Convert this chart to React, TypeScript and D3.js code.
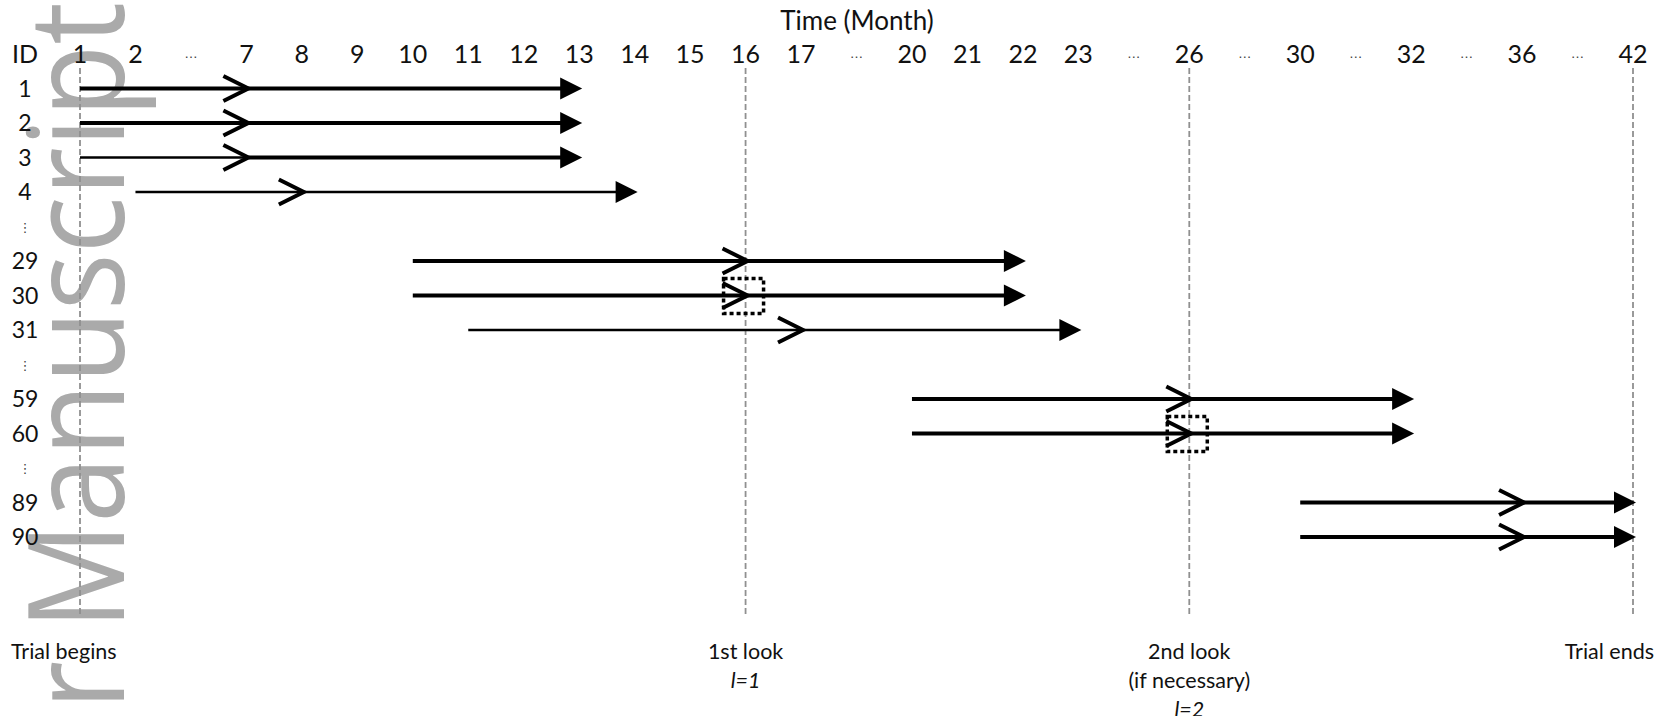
import React from "react";
import * as d3 from "d3";

// ---- Data ----
const columnLabels = ["1", "2", "…", "7", "8", "9", "10", "11", "12", "13", "14", "15", "16", "17", "…", "20", "21", "22", "23", "…", "26", "…", "30", "…", "32", "…", "36", "…", "42"];
const rowLabels = ["1", "2", "3", "4", "⋮", "29", "30", "31", "⋮", "59", "60", "⋮", "89", "90"];
const subjectIds = ["1", "2", "3", "4", "29", "30", "31", "59", "60", "89", "90"];
const entryMonths = [1, 1, 1, 2, 10, 10, 11, 20, 20, 30, 30];
const eventMonths = [7, 7, 7, 8, 16, 16, 17, 26, 26, 36, 36];
const exitMonths = [13, 13, 13, 14, 22, 22, 23, 32, 32, 42, 42];
const boxedIds = ["30", "60"];
const lookMonths = [1, 16, 26, 42];
const lookLabels = [["Trial begins"], ["1st look", "l=1"], ["2nd look", "(if necessary)", "l=2"], ["Trial ends"]];

const W = 1671;
const H = 716;
const FONT = "Lato, 'Open Sans', sans-serif";

export default function App() {
  const x = d3.scalePoint<number>().domain(d3.range(columnLabels.length)).range([80, 1633]);
  const y = d3.scalePoint<number>().domain(d3.range(rowLabels.length)).range([88.5, 537]);
  const mx = (m: number) => x(columnLabels.indexOf(String(m))) as number;
  const ry = (id: string) => y(rowLabels.indexOf(id)) as number;

  const thinRows = ["4", "31"];
  const thinFirst = ["3"];

  return (
    <svg width={W} height={H} style={{ position: "absolute", left: 0, top: 0, background: "#fff" }}>
      {/* watermark */}
      <text
        transform="translate(124,2) rotate(-90) scale(0.89,1)"
        textAnchor="end"
        fontFamily="'Open Sans', sans-serif"
        fontSize={134}
        fill="#aaaaaa"
      >
        Author Manuscript
      </text>

      {/* title */}
      <text x={857} y={30} textAnchor="middle" fontFamily={FONT} fontSize={26} fill="#111">
        Time (Month)
      </text>

      {/* header */}
      <text x={25} y={63} textAnchor="middle" fontFamily={FONT} fontSize={25} fill="#111">ID</text>
      {columnLabels.map((c, i) =>
        c === "…" ? (
          <text key={i} x={x(i)} y={58} textAnchor="middle" fontFamily="'DejaVu Sans', sans-serif" fontSize={13} fill="#444">…</text>
        ) : (
          <text key={i} x={x(i)} y={63} textAnchor="middle" fontFamily={FONT} fontSize={25} fill="#111">{c}</text>
        )
      )}

      {/* row labels */}
      {rowLabels.map((r, i) =>
        r === "⋮" ? (
          <text key={i} x={25} y={(y(i) as number) + 5} textAnchor="middle" fontFamily="'DejaVu Sans', sans-serif" fontSize={13} fill="#444">⋮</text>
        ) : (
          <text key={i} x={25} y={(y(i) as number) + 8} textAnchor="middle" fontFamily={FONT} fontSize={23} fill="#111">{r}</text>
        )
      )}

      {/* look lines */}
      {lookMonths.map((m, i) => (
        <line key={i} x1={mx(m)} x2={mx(m)} y1={68} y2={617} stroke="#909090" strokeWidth={1.8} strokeDasharray="6 3" />
      ))}

      {/* subjects */}
      {subjectIds.map((id, i) => {
        const yy = ry(id);
        const x0 = mx(entryMonths[i]);
        const xe = mx(eventMonths[i]) + 2;
        const xt = mx(exitMonths[i]) + 3;
        const w2 = thinRows.includes(id) ? 2.6 : 4;
        const w1 = thinRows.includes(id) || thinFirst.includes(id) ? 2.6 : 4;
        return (
          <g key={id}>
            <line x1={x0} x2={xe} y1={yy} y2={yy} stroke="#000" strokeWidth={w1} />
            <line x1={xe} x2={xt - 20} y1={yy} y2={yy} stroke="#000" strokeWidth={w2} />
            <path d={`M${xe - 25},${yy - 12.5}L${xe},${yy}L${xe - 25},${yy + 12.5}`} fill="none" stroke="#000" strokeWidth={4} />
            <path d={`M${xt},${yy}L${xt - 22},${yy - 11}L${xt - 22},${yy + 11}Z`} fill="#000" />
            {boxedIds.includes(id) && (
              <rect x={xe - 24} y={yy - 17} width={40} height={35} fill="none" stroke="#000" strokeWidth={3.5} strokeDasharray="4 3" />
            )}
          </g>
        );
      })}

      {/* look labels */}
      {lookMonths.map((m, i) => {
        const lines = lookLabels[i];
        let ax = mx(m);
        let anchor: "start" | "middle" | "end" = "middle";
        if (i === 0) { ax = 11; anchor = "start"; }
        if (i === lookMonths.length - 1) { ax = 1654; anchor = "end"; }
        return (
          <g key={i}>
            {lines.map((t, j) => (
              <text
                key={j}
                x={ax}
                y={659 + j * 29}
                textAnchor={anchor}
                fontFamily={FONT}
                fontSize={21.5}
                fontStyle={t.startsWith("l=") ? "italic" : "normal"}
                fill="#111"
              >
                {t}
              </text>
            ))}
          </g>
        );
      })}
    </svg>
  );
}
